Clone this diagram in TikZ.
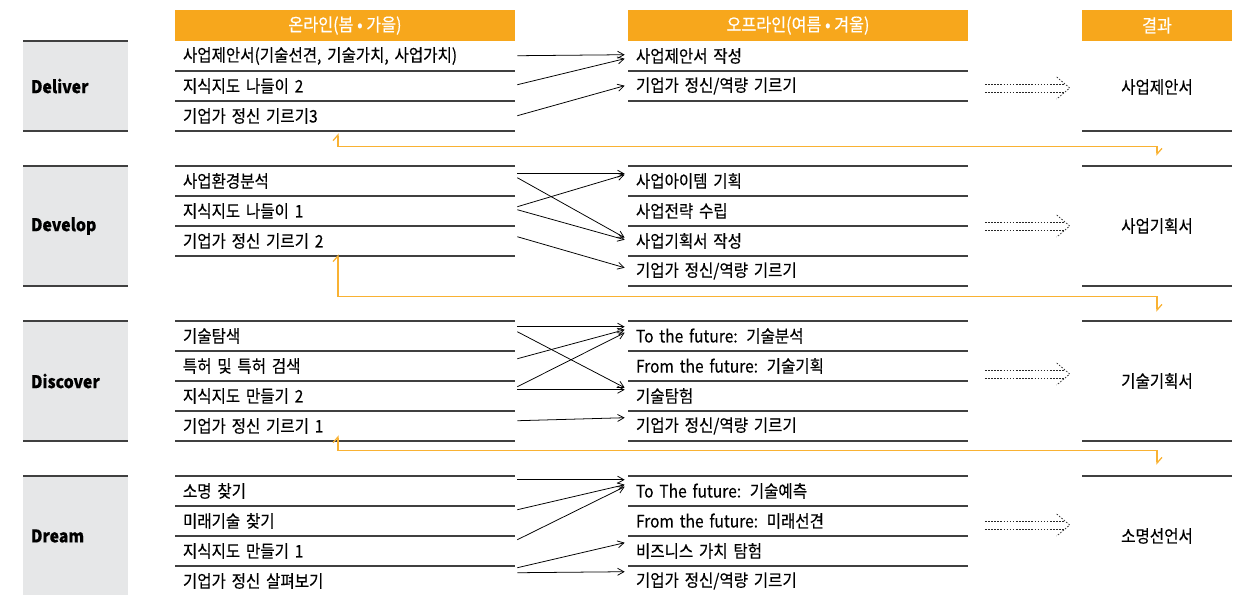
\documentclass[tikz,border=0pt]{standalone}
\usepackage{fontspec}
\setmainfont{Noto Sans CJK KR}[FakeStretch=0.9,FakeBold=0.3]
\usetikzlibrary{calc,arrows.meta}
\definecolor{headorange}{HTML}{F7A71C}
\definecolor{lineorange}{HTML}{F9B233}
\definecolor{boxgray}{HTML}{E6E7E8}
\newcommand{\itemfont}{\fontsize{12.3}{14}\selectfont}
\newcommand{\dotarrow}[2]{
    \draw[dotline] ($(#1)+(0,-4)$) -- ($(#1 -| #2.west)+(-18,-4)$)
                   ($(#1)+(0,4)$) -- ($(#1 -| #2.west)+(-18,4)$);
    \draw[dotline] ($(#1 -| #2.west)+(-25,-11)$) -- ($(#1 -| #2.west)+(-12,0)$) -- ($(#1 -| #2.west)+(-25,11)$);
}
\tikzset{
  header/.style={fill=headorange,text=white,minimum height=0.775cm,inner sep=0pt,font=\fontsize{12.8}{14}\selectfont},
  phase/.style={fill=boxgray,minimum width=2.625cm,text width=2.225cm,inner xsep=0.2cm,align=left,font=\fontsize{12.5}{14}\selectfont\bfseries},
  rule/.style={draw=black!75,line width=0.9pt},
  flow/.style={draw=black,line width=0.55pt,-{Straight Barb[length=4.5pt,width=5pt]}},
  feedback/.style={draw=lineorange,line width=0.9pt,{Straight Barb[harpoon,length=4pt,width=7pt]}-{Straight Barb[harpoon,length=4pt,width=7pt]}},
  dotline/.style={draw=black!85,line width=0.5pt,dash pattern=on 1.1pt off 1.1pt}
}

\begin{document}
\begin{tikzpicture}[x=0.025cm, y=-0.025cm]
            \tikzstyle{item}=[minimum height=0.75cm,text width=8.1cm,inner xsep=0.2cm,inner ysep=0pt,align=left,font=\itemfont]
            \tikzstyle{result}=[minimum width=3.75cm,inner sep=0pt,font=\itemfont]
            \useasboundingbox (0,0) rectangle (1240,594);

            % headers
            \node[header,minimum width=8.5cm] (H_on) at (345,25.5) {온라인(봄 • 가을)};
            \node[header,minimum width=8.5cm] (H_off) at (798,25.5) {오프라인(여름 • 겨울)};
            \node[header,minimum width=3.75cm] (H_res) at (1157,25.5) {결과};

            % phases
            \node[phase,minimum height=2.25cm] (P_1) at (75.5,86) {Deliver};
            \node[phase,minimum height=3cm] (P_2) at (75.5,226) {Develop};
            \node[phase,minimum height=3cm] (P_3) at (75.5,381) {Discover};
            \node[phase,minimum height=3cm] (P_4) at (75.5,536) {Dream};

            % online
            \node[item] (On_1_1) at (345,56)  {사업제안서(기술선견, 기술가치, 사업가치)};
            \node[item] (On_1_2) at (345,86)  {지식지도 나들이 2};
            \node[item] (On_1_3) at (345,116) {기업가 정신 기르기3};
            \node[item] (On_2_1) at (345,181) {사업환경분석};
            \node[item] (On_2_2) at (345,211) {지식지도 나들이 1};
            \node[item] (On_2_3) at (345,241) {기업가 정신 기르기 2};
            \node[item] (On_3_1) at (345,336) {기술탐색};
            \node[item] (On_3_2) at (345,366) {특허 및 특허 검색};
            \node[item] (On_3_3) at (345,396) {지식지도 만들기 2};
            \node[item] (On_3_4) at (345,426) {기업가 정신 기르기 1};
            \node[item] (On_4_1) at (345,491) {소명 찾기};
            \node[item] (On_4_2) at (345,521) {미래기술 찾기};
            \node[item] (On_4_3) at (345,551) {지식지도 만들기 1};
            \node[item] (On_4_4) at (345,581) {기업가 정신 살펴보기};

            % offline
            \node[item] (Off_1_1) at (798,56)  {사업제안서 작성};
            \node[item] (Off_1_2) at (798,86)  {기업가 정신/역량 기르기};
            \node[item] (Off_2_1) at (798,181) {사업아이템 기획};
            \node[item] (Off_2_2) at (798,211) {사업전략 수립};
            \node[item] (Off_2_3) at (798,241) {사업기획서 작성};
            \node[item] (Off_2_4) at (798,271) {기업가 정신/역량 기르기};
            \node[item] (Off_3_1) at (798,336) {To the future: 기술분석};
            \node[item] (Off_3_2) at (798,366) {From the future: 기술기획};
            \node[item] (Off_3_3) at (798,396) {기술탐험};
            \node[item] (Off_3_4) at (798,426) {기업가 정신/역량 기르기};
            \node[item] (Off_4_1) at (798,491) {To The future: 기술예측};
            \node[item] (Off_4_2) at (798,521) {From the future: 미래선견};
            \node[item] (Off_4_3) at (798,551) {비즈니스 가치 탐험};
            \node[item] (Off_4_4) at (798,581) {기업가 정신/역량 기르기};

            % results
            \node[result,minimum height=2.25cm] (R_1) at (1157,87) {사업제안서};
            \node[result,minimum height=3cm] (R_2) at (1157,226) {사업기획서};
            \node[result,minimum height=3cm] (R_3) at (1157,381) {기술기획서};
            \node[result,minimum height=3cm] (R_4) at (1157,536) {소명선언서};

            % rules
            \draw[rule] (23,41) -- (128,41) (23,131) -- (128,131) (23,166) -- (128,166) (23,286) -- (128,286)
                        (23,321) -- (128,321) (23,441) -- (128,441) (23,476) -- (128,476);
            \draw[rule] (175,71) -- (515,71) (175,101) -- (515,101) (175,131) -- (515,131)
                        (175,166) -- (515,166) (175,196) -- (515,196) (175,226) -- (515,226) (175,256) -- (515,256)
                        (175,321) -- (515,321) (175,351) -- (515,351) (175,381) -- (515,381) (175,411) -- (515,411) (175,441) -- (515,441)
                        (175,476) -- (515,476) (175,506) -- (515,506) (175,536) -- (515,536) (175,566) -- (515,566);
            \draw[rule] (628,71) -- (968,71) (628,101) -- (968,101)
                        (628,166) -- (968,166) (628,196) -- (968,196) (628,226) -- (968,226) (628,256) -- (968,256) (628,286) -- (968,286)
                        (628,321) -- (968,321) (628,351) -- (968,351) (628,381) -- (968,381) (628,411) -- (968,411) (628,441) -- (968,441)
                        (628,476) -- (968,476) (628,506) -- (968,506) (628,536) -- (968,536) (628,566) -- (968,566);
            \draw[rule] (1082,131) -- (1232,131) (1082,166) -- (1232,166) (1082,286) -- (1232,286)
                        (1082,321) -- (1232,321) (1082,441) -- (1232,441) (1082,476) -- (1232,476);

            % online -> offline
            \draw[flow] ($(On_1_1.north east)+(2,15)$) -- ($(Off_1_1.north west)+(-3,14)$);
            \draw[flow] ($(On_1_2.north east)+(2,14)$) -- ($(Off_1_1.north west)+(-3,18)$);
            \draw[flow] ($(On_1_3.north east)+(2,15)$) -- ($(Off_1_2.north west)+(-3,15)$);

            \draw[flow] ($(On_2_1.north east)+(2,8)$) -- ($(Off_2_1.north west)+(-3,8)$);
            \draw[flow] ($(On_2_1.north east)+(2,12)$) -- ($(Off_2_3.north west)+(-3,12)$);
            \draw[flow] ($(On_2_2.north east)+(2,11)$) -- ($(Off_2_1.north west)+(-3,9)$);
            \draw[flow] ($(On_2_2.north east)+(2,14)$) -- ($(Off_2_3.north west)+(-3,14)$);
            \draw[flow] ($(On_2_3.north east)+(2,11)$) -- ($(Off_2_4.north west)+(-3,12)$);

            \draw[flow] ($(On_3_1.north east)+(2,6)$) -- ($(Off_3_1.north west)+(-3,6)$);
            \draw[flow] ($(On_3_1.north east)+(2,11)$) -- ($(Off_3_3.north west)+(-3,7)$);
            \draw[flow] ($(On_3_2.north east)+(2,8)$) -- ($(Off_3_1.north west)+(-3,9)$);
            \draw[flow] ($(On_3_3.north east)+(2,6)$) -- ($(Off_3_1.north west)+(-3,12)$);
            \draw[flow] ($(On_3_3.north east)+(2,9)$) -- ($(Off_3_3.north west)+(-3,9)$);
            \draw[flow] ($(On_3_4.north east)+(2,10)$) -- ($(Off_3_4.north west)+(-3,7)$);

            \draw[flow] ($(On_4_1.north east)+(2,4)$) -- ($(Off_4_1.north west)+(-3,4)$);
            \draw[flow] ($(On_4_2.north east)+(2,4)$) -- ($(Off_4_1.north west)+(-3,9)$);
            \draw[flow] ($(On_4_3.north east)+(2,4)$) -- ($(Off_4_1.north west)+(-3,11)$);
            \draw[flow] ($(On_4_4.north east)+(2,2)$) -- ($(Off_4_3.north west)+(-3,7)$);
            \draw[flow] ($(On_4_4.north east)+(2,7)$) -- ($(Off_4_4.north west)+(-3,6)$);

            % offline -> result
            \coordinate (D_1) at (985,88);
            \coordinate (D_2) at (985,226);
            \coordinate (D_3) at (985,374);
            \coordinate (D_4) at (985,525);
            \dotarrow{D_1}{R_1}
            \dotarrow{D_2}{R_2}
            \dotarrow{D_3}{R_3}
            \dotarrow{D_4}{R_4}

            % feedback
            \draw[feedback] ($(On_1_3.south)+(-7,2)$) |- ($(R_2.north)+(0,-19)$) -- ($(R_2.north)+(0,-10)$);
            \draw[feedback] ($(On_2_3.south)+(-7,-2)$) |- ($(R_3.north)+(0,-24)$) -- ($(R_3.north)+(0,-9)$);
            \draw[feedback] ($(On_3_4.south)+(-7,-6)$) |- ($(R_4.north)+(0,-25)$) -- ($(R_4.north)+(0,-11)$);
        \end{tikzpicture}
\end{document}
